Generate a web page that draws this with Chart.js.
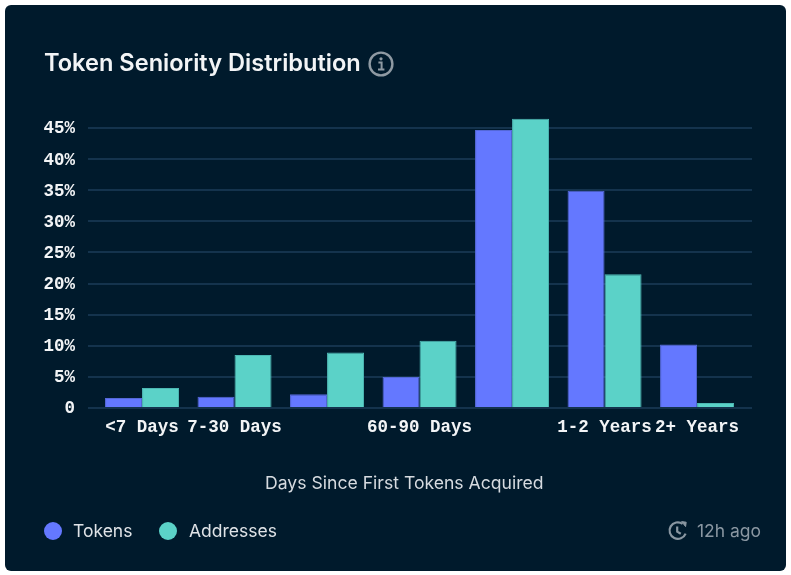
<!DOCTYPE html>
<html>
<head>
<meta charset="utf-8">
<script src="https://cdn.jsdelivr.net/npm/chart.js@4"></script>
<style>
  html,body{margin:0;padding:0;background:#fff;}
  body{width:791px;height:575px;position:relative;overflow:hidden;font-family:Inter,sans-serif;}
  #card{position:absolute;left:5px;top:5px;width:781px;height:566px;background:#001a2c;border-radius:6px;}
  #chart{position:absolute;left:0;top:0;}
  .txt{position:absolute;white-space:nowrap;line-height:1;}
  #title{left:44px;top:51px;font-size:23.6px;font-weight:600;color:#f2f4f6;}
  #info{position:absolute;left:368px;top:51px;}
  #xtitle{left:265px;top:474px;font-size:17.6px;color:#d6dbe0;}
  .dot{position:absolute;top:522px;width:18px;height:18px;border-radius:50%;}
  .leg{top:522px;font-size:17.5px;color:#dfe3e7;}
  #ago{right:30px;top:522px;font-size:17.5px;color:#8a97a2;}
  #clock{position:absolute;left:667px;top:520px;}
</style>
</head>
<body>
<div id="card"></div>
<canvas id="chart" width="791" height="575" style="width:791px;height:575px"></canvas>
<div class="txt" id="title">Token Seniority Distribution</div>
<svg id="info" width="26" height="26" viewBox="0 0 26 26" fill="none">
  <circle cx="13" cy="13" r="11.4" stroke="#8f9aa3" stroke-width="2.4"/>
  <circle cx="13" cy="7.8" r="1.6" fill="#8f9aa3"/>
  <path d="M10.4 11.4h3.2v7M10 18.6h6.4" stroke="#8f9aa3" stroke-width="2"/>
</svg>
<div class="txt" id="xtitle">Days Since First Tokens Acquired</div>
<div id="legend"></div>
<svg id="clock" width="22" height="22" viewBox="0 0 22 22" fill="none" stroke="#8a97a2" stroke-width="2.2">
  <path d="M18.6 13.6A8.3 8.3 0 1 1 15.6 3.8"/>
  <path d="M10.2 6.6v5l3.6 2.2"/>
  <path d="M14.6 1.6l4.6 0.6-0.6 4.4z" fill="#8a97a2" stroke-width="1"/>
</svg>
<div class="txt" id="ago">12h ago</div>

<script>
const categories = ['<7 Days','7-30 Days','','60-90 Days','','1-2 Years','2+ Years'];
const tokens = [1.6,1.8,2.2,5.0,44.7,34.9,10.2];
const addresses = [3.2,8.5,8.9,10.8,46.5,21.5,0.8];
const seriesNames = ['Tokens','Addresses'];
const seriesColors = ['#6478ff','#5bd2c8'];
const seriesBorders = ['#5468d8','#4db8b4'];

const points = arr => arr.map((v,i)=>({x:i,y:v}));

new Chart(document.getElementById('chart'), {
  type:'bar',
  data:{
    datasets:[tokens,addresses].map((arr,i)=>({
      label:seriesNames[i],
      data:points(arr),
      backgroundColor:seriesColors[i],
      borderColor:seriesBorders[i],
      borderWidth:1
    }))
  },
  options:{
    responsive:false,
    animation:false,
    devicePixelRatio:1,
    layout:{padding:{left:0,right:39,top:116,bottom:0}},
    categoryPercentage:0.8,
    barPercentage:1,
    plugins:{legend:{display:false},tooltip:{enabled:false}},
    scales:{
      // linear so the gridlines can run a little past the first and last group
      x:{
        type:'linear',
        offset:false,
        min:-0.584,
        max:6.594,
        grid:{display:false},
        border:{display:false},
        afterFit:s=>{ s.height=167; },
        ticks:{
          stepSize:1,
          includeBounds:false,
          autoSkip:false,
          maxRotation:0,
          padding:1,
          color:'#f2f4f6',
          font:{family:'Liberation Mono',size:17.5,weight:'bold'},
          callback:v=>categories[v]
        }
      },
      y:{
        min:0,
        max:46.93,
        border:{display:false},
        grid:{color:'#14334d',lineWidth:2,drawTicks:false},
        afterFit:s=>{ s.width=88; },
        ticks:{
          stepSize:5,
          includeBounds:false,
          padding:13,
          labelOffset:1,
          color:'#f2f4f6',
          font:{family:'Liberation Mono',size:17.5,weight:'bold'},
          callback:v=>v===0?'0':v+'%'
        }
      }
    }
  }
});

// legend
const legendLefts = [[44,73],[159,189]];
document.getElementById('legend').innerHTML = seriesNames.map((n,i)=>
  `<div class="dot" style="left:${legendLefts[i][0]}px;background:${seriesColors[i]}"></div>`+
  `<div class="txt leg" style="left:${legendLefts[i][1]}px">${n}</div>`).join('');
</script>
</body>
</html>
